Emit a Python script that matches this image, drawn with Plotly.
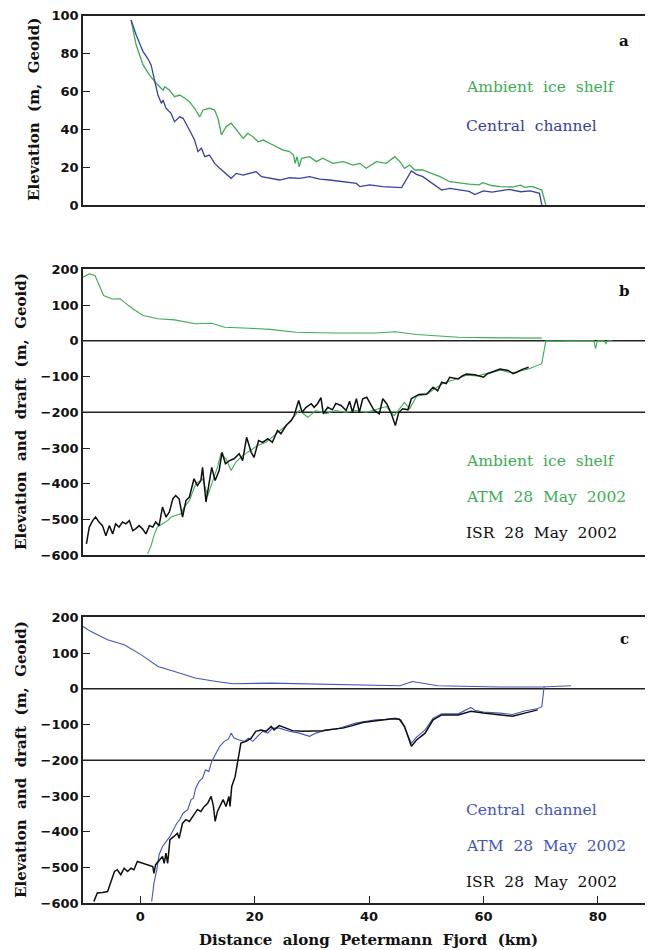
import plotly.graph_objects as go

# ---------------- data ----------------
# Panel a: surface elevation (m, Geoid)
a_ambient_x = [-1.6, -0.7, 0.5, 1.6, 2.8, 3.4, 4.0, 4.3, 5.1, 6.0, 6.9, 7.8, 8.6, 9.5, 10.4, 11.0, 12.1, 13.0,
               13.6, 14.2, 15.0, 15.9, 16.8, 18.0, 18.8, 19.7, 20.6, 21.5, 22.6, 23.8, 24.9, 26.1, 26.8, 27.1,
               27.4, 27.8, 28.2, 29.6, 30.8, 31.9, 33.7, 35.5, 37.2, 38.4, 39.5, 41.3, 43.0, 44.5, 45.4, 46.2,
               47.1, 48.0, 49.4, 50.9, 52.4, 54.1, 55.9, 57.5, 59.2, 59.9, 61.4, 62.9, 65.0, 66.5, 67.2, 68.5,
               70.2, 70.9]
a_ambient_y = [97.7, 84.5, 74, 68.7, 64.3, 62.5, 60.7, 62.5, 60.7, 57.2, 58.1, 56.4, 54.6, 51.1, 46.6, 50.2, 51.1,
               50.2, 45.8, 37, 41.4, 43.2, 39.6, 35.2, 37.9, 36.1, 33.4, 34.3, 32.6, 30.8, 29.1, 28.2, 26.4, 22,
               25.5, 20.2, 24.7, 25.5, 22.9, 24.7, 22, 22.9, 21.1, 22, 19.4, 22.9, 22, 25.5, 22.9, 19.4,
               21.1, 18.5, 18.5, 16.7, 15, 12.3, 11.4, 11, 10.6, 11.8, 10.3, 9.7, 9.5, 10.5, 9.3, 9.8,
               7.9, 0]
a_channel_x = [-1.6, -0.7, 0.5, 1.3, 1.9, 2.5, 3.1, 3.7, 4.0, 4.5, 5.4, 6.0, 6.9, 7.5, 8.0, 8.6, 9.5, 10.1,
               10.7, 11.3, 12.1, 13.0, 13.9, 15.0, 15.9, 16.8, 18.0, 19.1, 20.3, 21.2, 22.6, 24.4, 26.1, 27.9,
               29.6, 31.4, 33.1, 35.5, 37.8, 38.4, 40.1, 42.4, 45.7, 47.4, 48.3, 49.4, 50.6, 51.8, 52.7, 54.1,
               55.9, 57.5, 58.5, 60.0, 61.5, 62.9, 64.5, 66.5, 68.2, 69.8, 70.2]
a_channel_y = [97.7, 89.8, 81, 77.5, 74, 65.1, 58.1, 53.7, 55.5, 51.1, 48.4, 44, 46.6, 45.8, 43.2, 39.6, 34.3, 28.2,
               30, 25.5, 26.4, 22, 19.4, 16.7, 14.1, 16.7, 15.8, 16.7, 17.6, 15, 14.1, 13.2, 14.4, 14.1,
               15, 13.7, 13.2, 12.3, 11.4, 9.7, 10.6, 9.7, 9.2, 18, 16.2, 15, 12.3, 9.7, 7.9, 8.8,
               7.9, 7.2, 5.5, 7.5, 6.8, 7.6, 8.3, 7, 7.5, 6.2, 0]

# Panel b: ambient ice shelf, elevation and draft
b_elev_x = [-10.0, -8.9, -7.9, -6.4, -4.9, -3.5, -2.8, -1.3, 0.5, 3.1, 6.0, 9.6, 12.5, 14.8, 19.1, 22.7,
            27.2, 33.7, 41.0, 44.6, 48.3, 51.9, 55.6, 62.9, 70.2]
b_elev_y = [178, 187, 182.7, 126.7, 117, 117.5, 108, 89.5, 70.8, 61.5, 58.4, 47.5, 49, 38, 35, 32,
            24, 22, 22, 25.5, 17.6, 14.5, 10, 8.3, 7.6]
b_atm_x = [1.3, 1.9, 2.4, 3.0, 3.9, 4.8, 5.4, 6.2, 7.1, 7.7, 8.6, 9.7, 10.9, 11.8, 12.7, 13.5, 14.1, 15.0,
           15.9, 16.7, 17.9, 19.1, 20.5, 22.0, 23.7, 25.5, 26.6, 27.8, 29.3, 30.7, 32.5, 34.2, 36.0, 37.7,
           39.5, 41.2, 43.0, 44.4, 45.3, 46.2, 47.1, 48.3, 50.0, 51.5, 53.0, 55.0, 57.0, 59.0, 61.0, 63.0,
           65.0, 66.5, 68.0, 69.0, 70.2, 70.9, 72.5, 75.0, 77.5, 79.3, 79.6, 79.9, 81.1, 81.4, 81.7, 82.6]
b_atm_y = [-596, -573, -545, -521, -512, -503, -493, -489, -484, -465, -447, -400, -386, -433, -391, -354, -316,
           -330, -363, -340, -321, -307, -293, -284, -260, -237, -218, -195, -214, -195, -204, -195, -200,
           -195, -200, -193, -184, -209, -190, -172, -190, -155, -150, -135, -118, -108, -96, -98, -90, -82,
           -90, -85, -78, -72, -64, 0, -1, 0, -1, 0, -22, 0, 0, -8, 0, 0]
b_isr_x = [-9.4, -8.9, -8.3, -7.8, -7.2, -6.6, -6.0, -5.4, -4.8, -4.3, -3.7, -3.1, -2.5, -1.9, -1.3, -0.8, -0.2,
           0.4, 1.0, 1.6, 2.2, 2.7, 3.3, 3.9, 4.5, 5.1, 5.7, 6.2, 6.8, 7.4, 8.0, 8.6, 9.4, 10.0, 10.6, 10.9,
           11.5, 12.0, 12.5, 13.1, 13.8, 14.3, 14.9, 15.6, 16.4, 17.3, 17.9, 18.6, 19.4, 19.9, 20.7, 21.4,
           22.3, 23.1, 24.0, 24.6, 25.5, 26.4, 26.9, 27.7, 28.3, 29.0, 29.9, 30.4, 31.0, 31.6, 32.0, 32.8,
           33.6, 34.2, 35.1, 36.0, 36.6, 37.1, 37.8, 38.3, 38.9, 39.6, 40.2, 40.9, 41.8, 42.4, 43.1, 43.9,
           44.6, 45.2, 45.9, 46.8, 47.4, 48.7, 50.1, 51.2, 52.0, 52.7, 53.5, 54.1, 55.6, 56.3, 57.0, 58.5,
           60.0, 60.7, 61.4, 62.9, 64.3, 65.2, 65.8, 66.8, 67.9]
b_isr_y = [-568, -521, -503, -493, -507, -517, -545, -517, -540, -512, -521, -507, -512, -503, -531, -526, -517,
           -526, -540, -517, -521, -507, -517, -465, -493, -479, -442, -433, -442, -493, -447, -437, -386, -405,
           -391, -354, -451, -400, -354, -391, -363, -312, -344, -335, -330, -316, -335, -270, -312, -326,
           -279, -284, -274, -284, -251, -260, -237, -223, -209, -167, -200, -186, -176, -186, -176, -159,
           -204, -186, -193, -175, -181, -195, -169, -200, -162, -200, -162, -158, -176, -195, -204, -162,
           -176, -204, -237, -200, -190, -193, -162, -150, -149, -130, -140, -116, -120, -102, -107, -98,
           -93, -95, -102, -92, -88, -79, -83, -92, -88, -80, -74]

# Panel c: central channel, elevation and draft
c_elev_x = [-10.0, -8.6, -5.7, -2.8, 0.2, 3.1, 6.0, 9.6, 13.3, 16.2, 22.7, 33.7, 45.4, 47.6, 52.0, 62.9,
            70.2, 75.3]
c_elev_y = [174, 160, 137, 123, 95, 62.5, 48.4, 30, 20.5, 14, 16, 13, 8.4, 20.5, 8.4, 5, 5, 8.4]
c_atm_x = [2.0, 2.4, 2.9, 3.3, 3.9, 4.5, 5.2, 5.8, 6.4, 6.9, 7.5, 8.3, 8.9, 9.3, 9.7, 10.3, 10.9, 11.4, 12.0,
           12.5, 13.2, 13.9, 14.7, 15.4, 15.9, 16.4, 17.3, 18.2, 18.9, 19.7, 20.5, 21.4, 22.3, 23.1, 24.3,
           26.1, 27.8, 29.6, 30.7, 32.5, 34.2, 36.0, 37.7, 39.5, 41.2, 43.0, 44.7, 45.6, 46.2, 46.8, 47.4,
           48.3, 49.8, 51.2, 52.7, 55.6, 57.8, 58.5, 60.0, 62.9, 65.1, 67.2, 69.5, 70.2, 70.6]
c_atm_y = [-595, -544, -506, -464, -441, -427, -413, -394, -376, -366, -348, -338, -310, -306, -278, -259, -250,
           -227, -231, -203, -180, -161, -147, -141, -124, -138, -143, -147, -138, -147, -133, -119, -124,
           -110, -110, -119, -124, -133, -124, -115, -113, -105, -96, -91, -87, -85, -82, -87, -110, -129,
           -152, -135, -115, -82, -70, -70, -52, -60, -65, -68, -72, -62, -55, -50, 5]
c_isr_x = [-8.1, -7.5, -6.6, -5.7, -5.1, -4.5, -4.0, -3.4, -2.8, -2.2, -1.6, -1.1, -0.5, 0.4, 1.3, 2.2, 2.4,
           2.7, 3.4, 3.9, 4.2, 4.5, 4.8, 5.2, 5.9, 6.5, 6.8, 7.4, 8.0, 8.6, 9.4, 10.0, 10.6, 11.2, 11.8,
           12.4, 12.8, 13.1, 13.5, 14.1, 14.5, 15.0, 15.5, 15.7, 16.0, 16.6, 16.9, 17.2, 17.6, 18.5, 19.4,
           20.2, 21.1, 22.0, 22.9, 23.4, 24.3, 25.5, 26.6, 28.4, 30.1, 31.9, 33.6, 35.4, 37.1, 38.9, 40.6,
           42.4, 44.1, 45.3, 46.2, 46.8, 47.4, 48.3, 49.8, 51.2, 52.7, 55.6, 57.8, 60.0, 62.9, 65.1, 67.2,
           69.5]
c_isr_y = [-595, -571, -570, -567, -539, -511, -506, -520, -502, -511, -502, -506, -483, -488, -492, -497, -516,
           -492, -478, -469, -488, -460, -488, -422, -413, -404, -418, -376, -366, -371, -352, -338, -343,
           -329, -320, -301, -329, -371, -343, -320, -310, -329, -301, -329, -273, -245, -217, -180, -152,
           -147, -138, -119, -115, -119, -105, -115, -103, -110, -117, -119, -119, -117, -113, -110, -103,
           -94, -91, -87, -84, -85, -105, -133, -161, -143, -124, -87, -73, -73, -63, -68, -73, -77, -68,
           -59]

REF_LINES = [0, -200]
X_TICKS = [0, 20, 40, 60, 80]
A_TICKS = [0, 20, 40, 60, 80, 100]
BC_TICKS = [-600, -500, -400, -300, -200, -100, 0, 100, 200]
BC_TICKTEXT = ["\u2212600", "\u2212500", "\u2212400", "\u2212300", "\u2212200", "\u2212100", "0", "100", "200"]

GREEN = "rgb(60,172,85)"
BLUE = "rgb(55,65,160)"
LBLUE = "rgb(65,85,190)"
BLACK = "rgb(15,15,15)"

SP = "\u00a0\u00a0"  # wide word gaps as in the figure

# page body has an 8px margin: lay the figure out in screen pixels and shift
OFF = 8
W, H = 653 - OFF, 950 - OFF

fig = go.Figure()
fig.add_trace(go.Scatter(x=a_ambient_x, y=a_ambient_y, mode="lines", line=dict(color=GREEN, width=1.3),
                         xaxis="x", yaxis="y"))
fig.add_trace(go.Scatter(x=a_channel_x, y=a_channel_y, mode="lines", line=dict(color=BLUE, width=1.3),
                         xaxis="x", yaxis="y"))
fig.add_trace(go.Scatter(x=b_elev_x, y=b_elev_y, mode="lines", line=dict(color=GREEN, width=1.1),
                         xaxis="x2", yaxis="y2"))
fig.add_trace(go.Scatter(x=b_atm_x, y=b_atm_y, mode="lines", line=dict(color=GREEN, width=1.1),
                         xaxis="x2", yaxis="y2"))
fig.add_trace(go.Scatter(x=b_isr_x, y=b_isr_y, mode="lines", line=dict(color=BLACK, width=1.5),
                         xaxis="x2", yaxis="y2"))
fig.add_trace(go.Scatter(x=c_elev_x, y=c_elev_y, mode="lines", line=dict(color=LBLUE, width=1.1),
                         xaxis="x3", yaxis="y3"))
fig.add_trace(go.Scatter(x=c_atm_x, y=c_atm_y, mode="lines", line=dict(color=LBLUE, width=1.1),
                         xaxis="x3", yaxis="y3"))
fig.add_trace(go.Scatter(x=c_isr_x, y=c_isr_y, mode="lines", line=dict(color=BLACK, width=1.5),
                         xaxis="x3", yaxis="y3"))

def px_x(sx):
    return (sx - OFF) / W

def px_y(sy):
    return 1 - (sy - OFF) / H

def ydom(top_px, bot_px):
    return [px_y(bot_px), px_y(top_px)]

XDOM = [px_x(83), 1.0]
tickfont = dict(family="DejaVu Sans", size=13, color="#111", weight="bold")
titlefont = dict(family="DejaVu Serif", size=15, color="#111", weight="bold")
axline = dict(showline=True, linecolor="#222", linewidth=1.5, mirror=True, showgrid=False, zeroline=False)

def xax(anchor, labels):
    d = dict(domain=XDOM, range=[-10, 89.64], anchor=anchor, tickvals=X_TICKS, automargin=False, **axline)
    if labels:
        d.update(ticks="inside", ticklen=8, tickwidth=1.3, tickcolor="#222", tickfont=tickfont)
    else:
        d.update(ticks="", showticklabels=False)
    return d

def yax(anchor, dom, rng, vals, text):
    return dict(domain=dom, range=rng, anchor=anchor, tickvals=vals, ticktext=text, ticks="inside",
                ticklen=7, tickwidth=1.3, tickcolor="#222", tickfont=tickfont, automargin=False, **axline)

fig.update_layout(
    width=W, height=H,
    margin=dict(l=0, r=0, t=0, b=0),
    paper_bgcolor="white", plot_bgcolor="white",
    showlegend=False,
    xaxis=xax("y", False),
    xaxis2=xax("y2", False),
    xaxis3=xax("y3", True),
    yaxis=yax("x", ydom(15.7, 205), [0, 100], A_TICKS, [str(v) for v in A_TICKS]),
    yaxis2=yax("x2", ydom(269.3, 555.3), [-600, 200], BC_TICKS, BC_TICKTEXT),
    yaxis3=yax("x3", ydom(617.3, 903.3), [-600, 200], BC_TICKS, BC_TICKTEXT),
)

for xr, yr in (("x2", "y2"), ("x3", "y3")):
    for v in REF_LINES:
        fig.add_shape(type="line", xref=xr + " domain", yref=yr, x0=0, x1=1, y0=v, y1=v,
                      line=dict(color="#222", width=1.5), layer="below")

def ann(text, sx, sy, color, anchor="left", bold=False, size=15.5, family="DejaVu Serif", angle=0):
    f = dict(family=family, size=size, color=color)
    if bold:
        f["weight"] = "bold"
    fig.add_annotation(text=text, x=px_x(sx), y=px_y(sy), xref="paper", yref="paper",
                       xanchor=anchor, yanchor="middle", showarrow=False, font=f, textangle=angle)

# axis titles
ann("Elevation" + SP + "(m," + SP + "Geoid)", 34, 110, "#111", "center", True, 15, angle=-90)
ann("Elevation" + SP + "and" + SP + "draft" + SP + "(m," + SP + "Geoid)", 21, 412, "#111", "center", True, 15,
    angle=-90)
ann("Elevation" + SP + "and" + SP + "draft" + SP + "(m," + SP + "Geoid)", 21, 760, "#111", "center", True, 15,
    angle=-90)
ann("Distance" + SP + "along" + SP + "Petermann" + SP + "Fjord" + SP + "(km)", 369, 940, "#111", "center", True, 15)

# panel labels and series labels
ann("a", 624, 41, BLACK, "center", True, 15)
ann("Ambient" + SP + "ice" + SP + "shelf", 464, 87, GREEN)
ann("Central" + SP + "channel", 464, 126, BLUE)
ann("b", 624, 291, BLACK, "center", True, 15)
ann("Ambient" + SP + "ice" + SP + "shelf", 464, 461, GREEN)
ann("ATM" + SP + "28" + SP + "May" + SP + "2002", 464, 497, GREEN)
ann("ISR" + SP + "28" + SP + "May" + SP + "2002", 464, 533, BLACK)
ann("c", 624, 639, BLACK, "center", True, 15)
ann("Central" + SP + "channel", 464, 810, LBLUE)
ann("ATM" + SP + "28" + SP + "May" + SP + "2002", 464, 846, LBLUE)
ann("ISR" + SP + "28" + SP + "May" + SP + "2002", 464, 882, BLACK)

fig.write_html("out.html")
